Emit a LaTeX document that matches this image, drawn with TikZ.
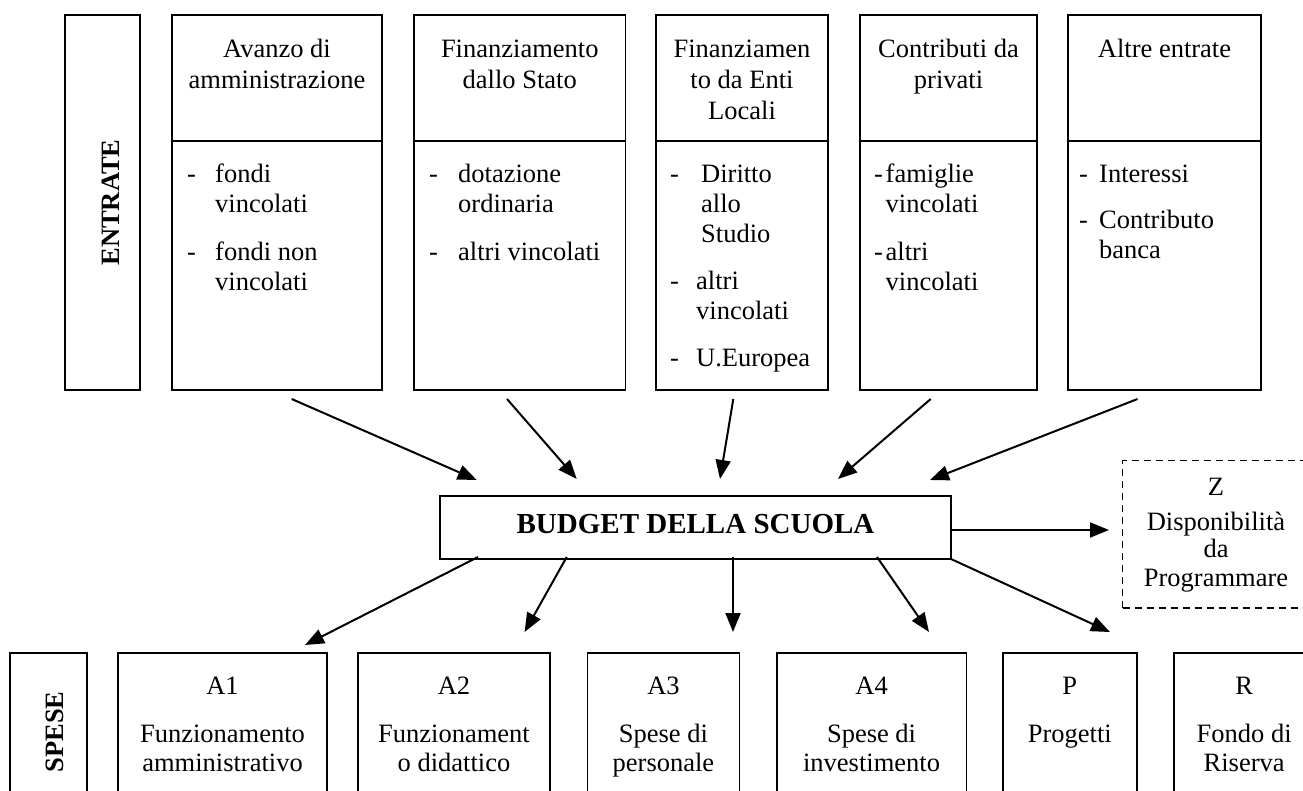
\documentclass[tikz,border=0pt]{standalone}
\usepackage{fontspec}
\setmainfont{Liberation Serif}
\usetikzlibrary{arrows.meta}
\newcommand\myfs[2]{\fontsize{#1}{#2}\selectfont}
\newcommand\dsh[1]{\makebox[#1][l]{-}}
\begin{document}
\begin{tikzpicture}[x=1pt,y=-1pt,
  box/.style={draw, line width=1.8pt, rectangle, inner sep=0pt, outer sep=0pt},
  dbox/.style={draw, line width=1.5pt, dash pattern=on 7pt off 5pt, rectangle, inner sep=0pt, outer sep=0pt},
  ttl/.style={inner sep=0pt, anchor=north, font=\myfs{26.5}{31}},
  lst/.style={inner sep=0pt, anchor=north west, font=\myfs{26.5}{30}},
  bot/.style={inner sep=0pt, anchor=north, font=\myfs{26.5}{29}},
  vlab/.style={inner sep=0pt, rotate=90, font=\myfs{26.5}{30}\bfseries},
  arr/.style={line width=2pt, -{Triangle[length=19pt,width=15pt]}},
]
\useasboundingbox (0,0) rectangle (1303,791);
\clip (0,0) rectangle (1303,791);

% ---------- ENTRATE row ----------
\node[box, minimum width=75pt, minimum height=375pt] (ent) at (102.5,202.5) {};
\node[vlab] (entl) at (110.5,202.5) {ENTRATE};

\node[box, minimum width=210pt, minimum height=125.7pt] (t1) at (277,77.85) {};
\node[box, minimum width=210pt, minimum height=249.3pt] (d1) at (277,265.35) {};
\node[box, minimum width=211.5pt, minimum height=125.7pt] (t2) at (519.75,77.85) {};
\node[box, minimum width=211.5pt, minimum height=249.3pt] (d2) at (519.75,265.35) {};
\node[box, minimum width=172pt, minimum height=125.7pt] (t3) at (742,77.85) {};
\node[box, minimum width=172pt, minimum height=249.3pt] (d3) at (742,265.35) {};
\node[box, minimum width=177pt, minimum height=125.7pt] (t4) at (948.5,77.85) {};
\node[box, minimum width=177pt, minimum height=249.3pt] (d4) at (948.5,265.35) {};
\node[box, minimum width=193pt, minimum height=125.7pt] (t5) at (1164.5,77.85) {};
\node[box, minimum width=193pt, minimum height=249.3pt] (d5) at (1164.5,265.35) {};

\node[ttl] (tt1) at (277,35.3) {\begin{tabular}{@{}c@{}}Avanzo di\\amministrazione\end{tabular}};
\node[ttl] (tt2) at (519.75,35.3) {\begin{tabular}{@{}c@{}}Finanziamento\\dallo Stato\end{tabular}};
\node[ttl] (tt3) at (742,35.3) {\begin{tabular}{@{}c@{}}Finanziamen\\to da Enti\\Locali\end{tabular}};
\node[ttl] (tt4) at (948.5,35.3) {\begin{tabular}{@{}c@{}}Contributi da\\privati\end{tabular}};
\node[ttl] (tt5) at (1164.5,35.3) {\begin{tabular}{@{}c@{}}Altre entrate\end{tabular}};

\node[lst] (l1) at (187,161) {\begin{tabular}{@{}l@{}l@{}}\dsh{28pt}&fondi\\&vincolati\\[18pt]\dsh{28pt}&fondi non\\&vincolati\end{tabular}};
\node[lst] (l2) at (429,161) {\begin{tabular}{@{}l@{}l@{}}\dsh{29pt}&dotazione\\&ordinaria\\[18pt]\dsh{29pt}&altri vincolati\end{tabular}};
\node[lst] (l3) at (670,161) {\begin{tabular}{@{}l@{}l@{}}\dsh{26pt}&\hspace*{5pt}Diritto\\&\hspace*{5pt}allo\\&\hspace*{5pt}Studio\\[17pt]\dsh{26pt}&altri\\&vincolati\\[17pt]\dsh{26pt}&U.Europea\end{tabular}};
\node[lst] (l4) at (874,161) {\begin{tabular}{@{}l@{}l@{}}\dsh{11.5pt}&famiglie\\&vincolati\\[18pt]\dsh{11.5pt}&altri\\&vincolati\end{tabular}};
\node[lst] (l5) at (1079,161) {\begin{tabular}{@{}l@{}l@{}}\dsh{20pt}&Interessi\\[16pt]\dsh{20pt}&Contributo\\&banca\end{tabular}};

% ---------- BUDGET ----------
\node[box, minimum width=511pt, minimum height=63pt] (bud) at (695.5,527.5) {};
\node[inner sep=0pt, font=\myfs{29}{33}\bfseries] (budl) at (695.5,524) {BUDGET DELLA SCUOLA};

% ---------- Z ----------
\node[dbox, minimum width=186.3pt, minimum height=147.3pt] (zb) at (1215.85,534.35) {};
\node[inner sep=0pt, anchor=north, font=\myfs{26.5}{27}] (zl) at (1216,476.1) {\begin{tabular}{@{}c@{}}Z\\[8pt]Disponibilità\\da\\[2pt]Programmare\end{tabular}};

% ---------- SPESE row ----------
\node[box, minimum width=77pt, minimum height=147.3pt] (sp) at (48.5,726.35) {};
\node[vlab] (spl) at (55,732) {SPESE};
\node[box, minimum width=209pt, minimum height=147.3pt] (a1) at (222.5,726.35) {};
\node[box, minimum width=192pt, minimum height=147.3pt] (a2) at (454,726.35) {};
\node[box, minimum width=152.1pt, minimum height=147.3pt] (a3) at (663.45,726.35) {};
\node[box, minimum width=189.7pt, minimum height=147.3pt] (a4) at (871.55,726.35) {};
\node[box, minimum width=133.6pt, minimum height=147.3pt] (p) at (1069.8,726.35) {};
\node[box, minimum width=139.7pt, minimum height=147.3pt] (r) at (1244.15,726.35) {};

\node[bot] (a1l) at (222.5,674.2) {\begin{tabular}{@{}c@{}}A1\\[19pt]Funzionamento\\amministrativo\end{tabular}};
\node[bot] (a2l) at (454,674.2) {\begin{tabular}{@{}c@{}}A2\\[19pt]Funzionament\\o didattico\end{tabular}};
\node[bot] (a3l) at (663.45,674.2) {\begin{tabular}{@{}c@{}}A3\\[19pt]Spese di\\personale\end{tabular}};
\node[bot] (a4l) at (871.55,674.2) {\begin{tabular}{@{}c@{}}A4\\[19pt]Spese di\\investimento\end{tabular}};
\node[bot] (pl) at (1069.8,674.2) {\begin{tabular}{@{}c@{}}P\\[19pt]Progetti\end{tabular}};
\node[bot] (rl) at (1244.15,674.2) {\begin{tabular}{@{}c@{}}R\\[19pt]Fondo di\\Riserva\end{tabular}};

% ---------- arrows ----------
\coordinate (s1) at (291.7,399);  \coordinate (e1) at (476.7,480);
\coordinate (s2) at (507,399);    \coordinate (e2) at (576.7,479);
\coordinate (s3) at (733.3,399);  \coordinate (e3) at (720,479);
\coordinate (s4) at (930.7,399);  \coordinate (e4) at (838,479);
\coordinate (s5) at (1137.5,399); \coordinate (e5) at (930,480);
\draw[arr] (s1) -- (e1);
\draw[arr] (s2) -- (e2);
\draw[arr] (s3) -- (e3);
\draw[arr] (s4) -- (e4);
\draw[arr] (s5) -- (e5);

\coordinate (zin) at (1109,530);
\draw[arr] (bud.east |- zin) -- (zin);

\coordinate (u1) at (478,557);   \coordinate (f1) at (305,645);
\coordinate (u2) at (566.7,557); \coordinate (f2) at (524.6,632);
\coordinate (u3) at (733,557);   \coordinate (f3) at (733,632);
\coordinate (u4) at (877,557);   \coordinate (f4) at (929,632);
\coordinate (f5) at (1110,632);
\draw[arr] (u1) -- (f1);
\draw[arr] (u2) -- (f2);
\draw[arr] (u3) -- (f3);
\draw[arr] (u4) -- (f4);
\draw[arr] (bud.south east) -- (f5);
\end{tikzpicture}
\end{document}
